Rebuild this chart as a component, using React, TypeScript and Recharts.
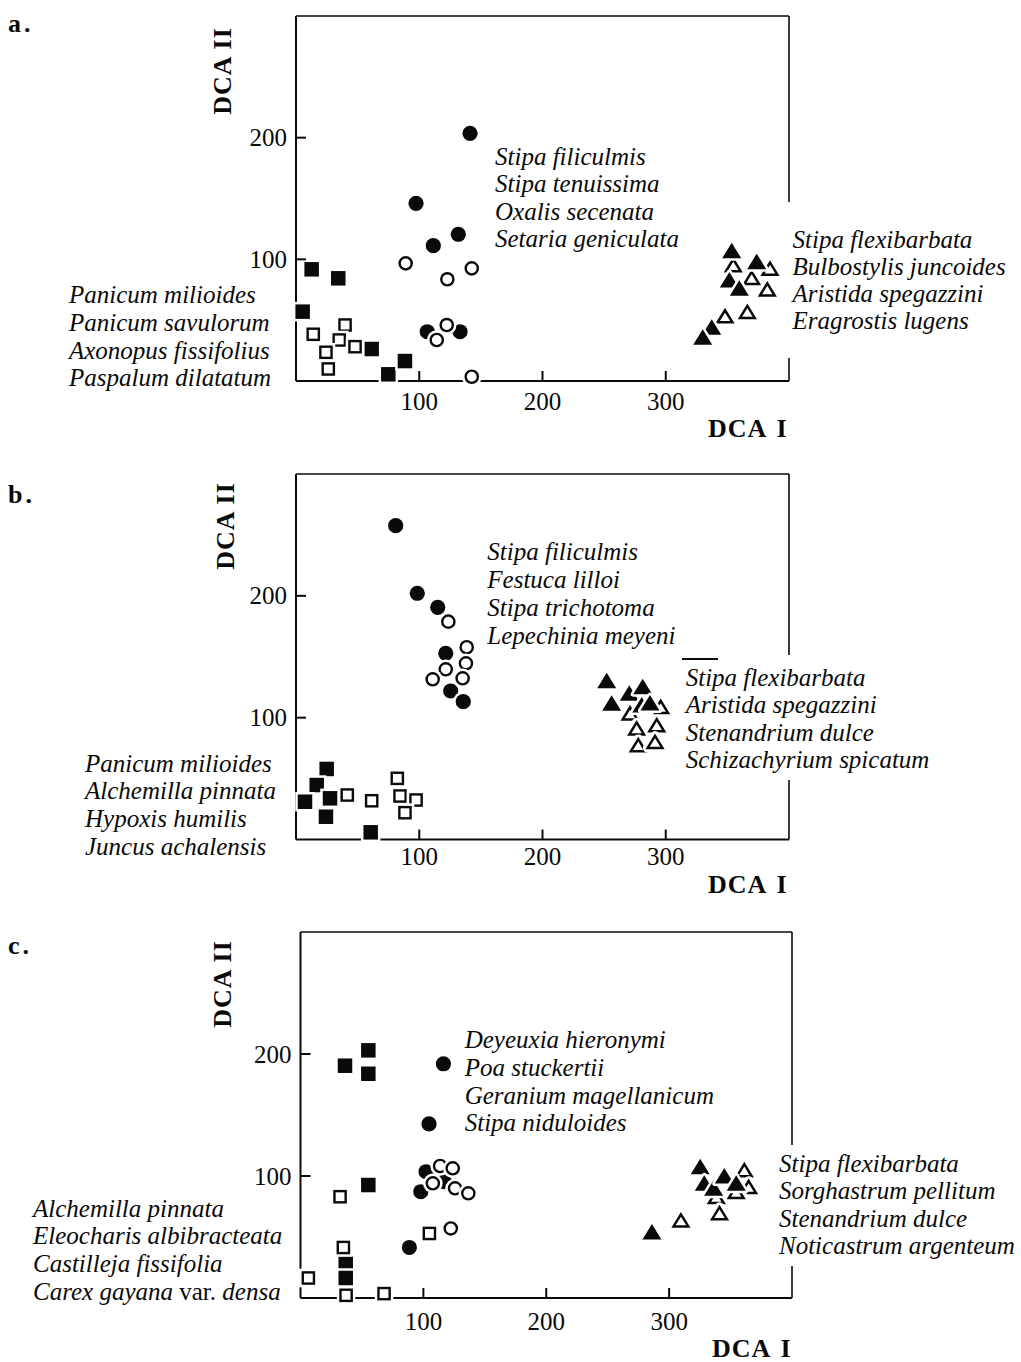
import React from 'react';
import { ScatterChart, Scatter, XAxis, YAxis, ReferenceLine } from 'recharts';

const FONT = '"Liberation Serif", "Times New Roman", Times, serif';

// ---------- data: panel a ----------
const aFilledSquares = [{ x: 12.7, y: 91.8 }, { x: 34.3, y: 84.4 }, { x: 5.4, y: 57 }, { x: 61.4, y: 26.3 }, { x: 74.9, y: 5.5 }, { x: 88.4, y: 16.4 }];
const aOpenSquares = [{ x: 14, y: 38.4 }, { x: 39.8, y: 46 }, { x: 35.1, y: 33.7 }, { x: 47.9, y: 28.2 }, { x: 24.3, y: 23.6 }, { x: 26.2, y: 9.9 }];
const aFilledCircles = [{ x: 141.2, y: 203.6 }, { x: 97.4, y: 146 }, { x: 111.4, y: 111.2 }, { x: 131.7, y: 120.6 }, { x: 106.5, y: 40.5 }, { x: 133.1, y: 40.5 }];
const aOpenCircles = [{ x: 89, y: 96.7 }, { x: 122.8, y: 83.6 }, { x: 142.6, y: 92.6 }, { x: 122.3, y: 46 }, { x: 114.2, y: 33.7 }, { x: 142.6, y: 3.5 }];
const aFilledTriangles = [{ x: 353.5, y: 107.1 }, { x: 373.8, y: 98.1 }, { x: 351.6, y: 83 }, { x: 359.7, y: 76.2 }, { x: 337.3, y: 44.1 }, { x: 330, y: 35.9 }];
const aOpenTriangles = [{ x: 354.8, y: 95.3 }, { x: 384.6, y: 92.6 }, { x: 369.7, y: 84.9 }, { x: 382.4, y: 75.4 }, { x: 348.1, y: 53.4 }, { x: 366.2, y: 57 }];

// ---------- data: panel b ----------
const bFilledSquares = [{ x: 24.9, y: 57.9 }, { x: 16.8, y: 44.7 }, { x: 7.3, y: 31 }, { x: 27.6, y: 33.8 }, { x: 24.3, y: 18.7 }, { x: 60.6, y: 5.9 }];
const bOpenSquares = [{ x: 41.6, y: 36.5 }, { x: 61.4, y: 31.8 }, { x: 82.2, y: 50.2 }, { x: 84.4, y: 35.7 }, { x: 97.4, y: 32.4 }, { x: 88.4, y: 22 }];
const bFilledCircles = [{ x: 80.9, y: 257.6 }, { x: 98.4, y: 202.1 }, { x: 115, y: 190.6 }, { x: 121.5, y: 152.8 }, { x: 125.5, y: 121.9 }, { x: 135.7, y: 113.1 }];
const bOpenCircles = [{ x: 123.6, y: 178.8 }, { x: 138.5, y: 157.8 }, { x: 137.9, y: 144.6 }, { x: 121.5, y: 139.7 }, { x: 110.9, y: 131.5 }, { x: 135.2, y: 132.3 }];
const bOpenTriangles = [{ x: 271, y: 103.6 }, { x: 295.9, y: 109 }, { x: 276.4, y: 91.3 }, { x: 292.7, y: 94 }, { x: 277.7, y: 77.6 }, { x: 291.3, y: 80.3 }];
const bFilledTriangles = [{ x: 252.1, y: 130.3 }, { x: 256.1, y: 111.8 }, { x: 270.4, y: 120 }, { x: 281.3, y: 125.4 }, { x: 280.5, y: 110.4 }, { x: 287.2, y: 112 }];

// ---------- data: panel c ----------
const cFilledSquares = [{ x: 36.2, y: 190.4 }, { x: 55.2, y: 203 }, { x: 55.2, y: 183.8 }, { x: 55.2, y: 92.6 }, { x: 36.8, y: 28.3 }, { x: 36.8, y: 16.4 }];
const cOpenSquares = [{ x: 32.2, y: 83 }, { x: 34.9, y: 41.4 }, { x: 6.4, y: 16.4 }, { x: 37.1, y: 2.2 }, { x: 68, y: 3.6 }, { x: 104.9, y: 52.9 }];
const cFilledCircles = [{ x: 116.3, y: 192 }, { x: 104.6, y: 142.7 }, { x: 102.2, y: 103.5 }, { x: 97.9, y: 87.1 }, { x: 116.9, y: 95.3 }, { x: 88.6, y: 41.4 }];
const cOpenCircles = [{ x: 113.6, y: 108.2 }, { x: 123.9, y: 106.3 }, { x: 107.7, y: 94 }, { x: 125.8, y: 89.9 }, { x: 136.6, y: 85.8 }, { x: 122.3, y: 57 }];
const cOpenTriangles = [{ x: 361.2, y: 104.9 }, { x: 364.7, y: 91.2 }, { x: 354.6, y: 87.1 }, { x: 338.4, y: 83 }, { x: 341, y: 69.8 }, { x: 309.6, y: 63.8 }];
const cFilledTriangles = [{ x: 325.3, y: 107.6 }, { x: 328.6, y: 94 }, { x: 336.2, y: 89.9 }, { x: 344.9, y: 100 }, { x: 354.6, y: 94 }, { x: 286, y: 54.2 }];

// ---------- axes ----------
const xTicks = [100, 200, 300];
const yTicks = [100, 200];
const xDomain = [0, 400];
const yDomain = [0, 300];

// ---------- labels ----------
const aLeft = ['Panicum milioides', 'Panicum savulorum', 'Axonopus fissifolius', 'Paspalum dilatatum'];
const aMid = ['Stipa filiculmis', 'Stipa tenuissima', 'Oxalis secenata', 'Setaria geniculata'];
const aRight = ['Stipa flexibarbata', 'Bulbostylis juncoides', 'Aristida spegazzini', 'Eragrostis lugens'];
const bLeft = ['Panicum milioides', 'Alchemilla pinnata', 'Hypoxis humilis', 'Juncus achalensis'];
const bMid = ['Stipa filiculmis', 'Festuca lilloi', 'Stipa trichotoma', 'Lepechinia meyeni'];
const bRight = ['Stipa flexibarbata', 'Aristida spegazzini', 'Stenandrium dulce', 'Schizachyrium spicatum'];
const cLeft = ['Alchemilla pinnata', 'Eleocharis albibracteata', 'Castilleja fissifolia', 'CAREX'];
const cMid = ['Deyeuxia hieronymi', 'Poa stuckertii', 'Geranium magellanicum', 'Stipa niduloides'];
const cRight = ['Stipa flexibarbata', 'Sorghastrum pellitum', 'Stenandrium dulce', 'Noticastrum argenteum'];

const HALO = 2.5;
const INK = '#0a0a0a';

const FilledSquare = (p: any) => {
  const { cx, cy } = p;
  const s = 14.5;
  return (
    <g>
      <rect x={cx - s / 2 - HALO} y={cy - s / 2 - HALO} width={s + 2 * HALO} height={s + 2 * HALO} fill="#fff" />
      <rect x={cx - s / 2} y={cy - s / 2} width={s} height={s} fill={INK} />
    </g>
  );
};
const OpenSquare = (p: any) => {
  const { cx, cy } = p;
  const s = 11.2;
  return (
    <g>
      <rect x={cx - s / 2 - 1.2 - HALO} y={cy - s / 2 - 1.2 - HALO} width={s + 2.4 + 2 * HALO} height={s + 2.4 + 2 * HALO} fill="#fff" />
      <rect x={cx - s / 2} y={cy - s / 2} width={s} height={s} fill="#fff" stroke={INK} strokeWidth={2.4} />
    </g>
  );
};
const FilledCircle = (p: any) => {
  const { cx, cy } = p;
  return (
    <g>
      <circle cx={cx} cy={cy} r={7.6 + HALO} fill="#fff" />
      <circle cx={cx} cy={cy} r={7.6} fill={INK} />
    </g>
  );
};
const OpenCircle = (p: any) => {
  const { cx, cy } = p;
  return (
    <g>
      <circle cx={cx} cy={cy} r={7.3 + HALO} fill="#fff" />
      <circle cx={cx} cy={cy} r={6.1} fill="#fff" stroke={INK} strokeWidth={2.4} />
    </g>
  );
};
const FilledTriangle = (p: any) => {
  const { cx, cy } = p;
  const pts = `${cx},${cy - 8} ${cx - 9.5},${cy + 7.5} ${cx + 9.5},${cy + 7.5}`;
  return (
    <g>
      <polygon points={pts} fill="#fff" stroke="#fff" strokeWidth={2 * HALO} strokeLinejoin="round" />
      <polygon points={pts} fill={INK} />
    </g>
  );
};
const OpenTriangle = (p: any) => {
  const { cx, cy } = p;
  const pts = `${cx},${cy - 5.8} ${cx - 7.4},${cy + 6.3} ${cx + 7.4},${cy + 6.3}`;
  return (
    <g>
      <polygon points={pts} fill="#fff" stroke="#fff" strokeWidth={2.5 + 2 * HALO + 2} strokeLinejoin="round" />
      <polygon points={pts} fill="#fff" stroke={INK} strokeWidth={2.5} strokeLinejoin="miter" />
    </g>
  );
};

const makeXTick = (off: number) => (props: any) => {
  const { x, y, payload } = props;
  return (
    <g>
      <line x1={x} y1={y} x2={x} y2={y - 10} stroke={INK} strokeWidth={2} />
      <text x={x} y={y + off} textAnchor="middle" fontFamily={FONT} fontSize={25} fill={INK}>
        {payload.value}
      </text>
    </g>
  );
};
const makeYTick = () => (props: any) => {
  const { x, y, payload } = props;
  return (
    <g>
      <line x1={x} y1={y} x2={x + 10} y2={y} stroke={INK} strokeWidth={2} />
      <text x={x - 9} y={y + 8.5} textAnchor="end" fontFamily={FONT} fontSize={25} fill={INK}>
        {payload.value}
      </text>
    </g>
  );
};

type PanelProps = {
  top: number;
  height: number;
  margin: { top: number; right: number; bottom: number; left: number };
  xOff: number;
  series: { data: { x: number; y: number }[]; shape: any; name: string }[];
};

const Panel = ({ top, height, margin, xOff, series }: PanelProps) => (
  <div style={{ position: 'absolute', left: 0, top }}>
    <ScatterChart width={1021} height={height} margin={margin}>
      <XAxis
        type="number"
        dataKey="x"
        domain={xDomain}
        ticks={xTicks}
        interval={0}
        height={40}
        tickSize={0}
        tickMargin={0}
        tickLine={false}
        axisLine={{ stroke: INK, strokeWidth: 2 }}
        tick={makeXTick(xOff)}
      />
      <YAxis
        type="number"
        dataKey="y"
        domain={yDomain}
        ticks={yTicks}
        interval={0}
        width={60}
        tickSize={0}
        tickMargin={0}
        tickLine={false}
        axisLine={{ stroke: INK, strokeWidth: 2 }}
        tick={makeYTick()}
      />
      <ReferenceLine y={300} stroke={INK} strokeWidth={1.6} />
      <ReferenceLine x={400} stroke={INK} strokeWidth={1.6} />
      {series.map((s) => (
        <Scatter key={s.name} name={s.name} data={s.data} shape={s.shape} isAnimationActive={false} />
      ))}
    </ScatterChart>
  </div>
);

const LabelBlock = ({ left, baseline, lh, lines, bg }: { left: number; baseline: number; lh: number; lines: string[]; bg?: [number, number, number] }) => {
  const top = baseline - 22.2;
  const padT = bg ? bg[0] : 0;
  const padB = bg ? bg[1] : 0;
  const padL = bg ? bg[2] : 0;
  return (
    <div
      style={{
        position: 'absolute',
        left: left - padL,
        top: top - padT,
        paddingTop: padT,
        paddingBottom: padB,
        paddingLeft: padL,
        paddingRight: bg ? 4 : 0,
        background: bg ? '#fff' : 'transparent',
        fontFamily: FONT,
        fontStyle: 'italic',
        fontSize: 25,
        lineHeight: `${lh}px`,
        whiteSpace: 'nowrap',
        color: INK,
      }}
    >
      {lines.map((l) =>
        l === 'CAREX' ? (
          <div key={l}>
            Carex gayana <span style={{ fontStyle: 'normal' }}>var.</span> densa
          </div>
        ) : (
          <div key={l}>{l}</div>
        )
      )}
    </div>
  );
};

const boldText: React.CSSProperties = {
  position: 'absolute',
  fontFamily: FONT,
  fontWeight: 'bold',
  fontSize: 26,
  lineHeight: '22px',
  whiteSpace: 'nowrap',
  color: INK,
};

const VLabel = ({ cx, cy }: { cx: number; cy: number }) => (
  <div style={{ ...boldText, left: cx, top: cy, letterSpacing: 1, transform: 'translate(-50%, -50%) rotate(-90deg)' }}>DCA II</div>
);
const HLabel = ({ left, baseline }: { left: number; baseline: number }) => (
  <div style={{ ...boldText, left, top: baseline - 19, letterSpacing: 1, wordSpacing: 3 }}>DCA I</div>
);
const PanelTag = ({ baseline, text }: { baseline: number; text: string }) => (
  <div style={{ ...boldText, left: 8, top: baseline - 19, letterSpacing: 3 }}>{text}</div>
);

export default function App() {
  return (
    <div style={{ position: 'absolute', left: 0, top: 0, width: 1021, height: 1362, background: '#fff', overflow: 'hidden' }}>
      <Panel
        top={0}
        height={460}
        margin={{ top: 16, right: 232, bottom: 39, left: 236 }}
        xOff={29}
        series={[
          { name: 'fs', data: aFilledSquares, shape: FilledSquare },
          { name: 'os', data: aOpenSquares, shape: OpenSquare },
          { name: 'fc', data: aFilledCircles, shape: FilledCircle },
          { name: 'oc', data: aOpenCircles, shape: OpenCircle },
          { name: 'ot', data: aOpenTriangles, shape: OpenTriangle },
          { name: 'ft', data: aFilledTriangles, shape: FilledTriangle },
        ]}
      />
      <Panel
        top={460}
        height={460}
        margin={{ top: 14, right: 232, bottom: 40.5, left: 236 }}
        xOff={25.5}
        series={[
          { name: 'fs', data: bFilledSquares, shape: FilledSquare },
          { name: 'os', data: bOpenSquares, shape: OpenSquare },
          { name: 'fc', data: bFilledCircles, shape: FilledCircle },
          { name: 'oc', data: bOpenCircles, shape: OpenCircle },
          { name: 'ot', data: bOpenTriangles, shape: OpenTriangle },
          { name: 'ft', data: bFilledTriangles, shape: FilledTriangle },
        ]}
      />
      <Panel
        top={920}
        height={442}
        margin={{ top: 12, right: 229, bottom: 24, left: 240.5 }}
        xOff={31.5}
        series={[
          { name: 'fs', data: cFilledSquares, shape: FilledSquare },
          { name: 'os', data: cOpenSquares, shape: OpenSquare },
          { name: 'fc', data: cFilledCircles, shape: FilledCircle },
          { name: 'oc', data: cOpenCircles, shape: OpenCircle },
          { name: 'ot', data: cOpenTriangles, shape: OpenTriangle },
          { name: 'ft', data: cFilledTriangles, shape: FilledTriangle },
        ]}
      />

      <PanelTag baseline={32} text="a." />
      <PanelTag baseline={503} text="b." />
      <PanelTag baseline={954} text="c." />

      <VLabel cx={222.5} cy={71} />
      <VLabel cx={226} cy={526} />
      <VLabel cx={222.5} cy={984} />

      <HLabel left={708} baseline={437} />
      <HLabel left={708} baseline={893} />
      <HLabel left={712} baseline={1357} />

      <LabelBlock left={69} baseline={303.3} lh={27.8} lines={aLeft} />
      <LabelBlock left={495} baseline={165} lh={27.4} lines={aMid} />
      <LabelBlock left={792.5} baseline={247.7} lh={27.2} lines={aRight} bg={[24, 24, 7]} />

      <LabelBlock left={85} baseline={771.7} lh={27.8} lines={bLeft} />
      <LabelBlock left={487.3} baseline={560} lh={28} lines={bMid} />
      <LabelBlock left={685.7} baseline={686} lh={27.4} lines={bRight} bg={[9, 7, 4]} />
      <div style={{ position: 'absolute', left: 682, top: 658, width: 36, height: 1.5, background: INK }} />

      <LabelBlock left={33} baseline={1216.7} lh={27.8} lines={cLeft} />
      <LabelBlock left={464.7} baseline={1048.3} lh={27.8} lines={cMid} />
      <LabelBlock left={779} baseline={1171.7} lh={27.5} lines={cRight} bg={[5, 6, 4]} />
    </div>
  );
}
